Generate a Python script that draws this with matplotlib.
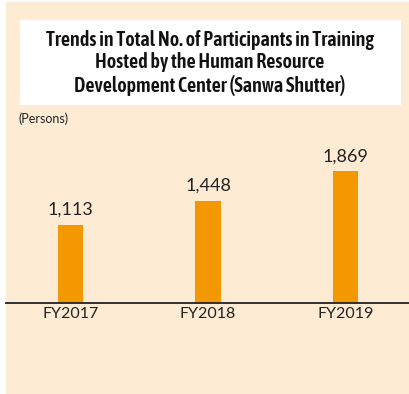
import matplotlib
matplotlib.use("Agg")
import matplotlib.pyplot as plt
from matplotlib.patches import Rectangle

years = ["FY2017", "FY2018", "FY2019"]
participants = [1113, 1448, 1869]

W, H = 410, 394
beige = "#fdebd3"
orange = "#f39800"
body_font = ["Lato", "DejaVu Sans"]

fig = plt.figure(figsize=(W / 100, H / 100), dpi=100, facecolor="white")

# panel background and white title box (pixel coords -> figure coords)
def px_rect(x0, y0, x1, y1, color):
    r = Rectangle((x0 / W, 1 - y1 / H), (x1 - x0) / W, (y1 - y0) / H,
                  transform=fig.transFigure, color=color, zorder=-10)
    fig.patches.append(r)

px_rect(6, 2, W, H, beige)
px_rect(20, 20, 400, 104, "white")

fig.text(210 / W, 1 - 63 / H,
         "Trends in Total No. of Participants in Training\nHosted by the Human Resource\nDevelopment Center (Sanwa Shutter)",
         ha="center", va="center", fontsize=14.5, fontweight=600,
         family=["Asap Condensed", "Archivo Narrow", "DejaVu Sans"], linespacing=1.15, color="#111111")
fig.text(19 / W, 1 - 119 / H, "(Persons)", ha="left", va="center", fontsize=9,
         family=body_font, color="#222222")

# axes: baseline at y=303 px, 0.0704 px per person
ymax = 2200
scale = 0.0704
base = 303
ax_h = ymax * scale
ax = fig.add_axes([6 / W, (H - base) / H, (W - 6) / W, ax_h / H])
ax.set_facecolor("none")

xs = range(len(years))
ax.bar(xs, participants, width=0.182, color=orange, zorder=2)
for x, v in zip(xs, participants):
    ax.annotate(f"{v:,}", (x, v), xytext=(0, 5), textcoords="offset points",
                ha="center", va="bottom", fontsize=13,
                family=body_font, color="#222222")

ax.set_xlim(-0.469, 2.469)
ax.set_ylim(0, ymax)
ax.set_xticks(list(xs))
ax.set_xticklabels(years, fontsize=11.5, family=body_font, color="#222222")
ax.tick_params(axis="x", length=0, pad=3)
ax.set_yticks([])
for s in ["top", "left", "right"]:
    ax.spines[s].set_visible(False)
ax.spines["bottom"].set_color("#222222")
ax.spines["bottom"].set_linewidth(1.3)

fig.savefig("out.png", dpi=100, facecolor="white")
